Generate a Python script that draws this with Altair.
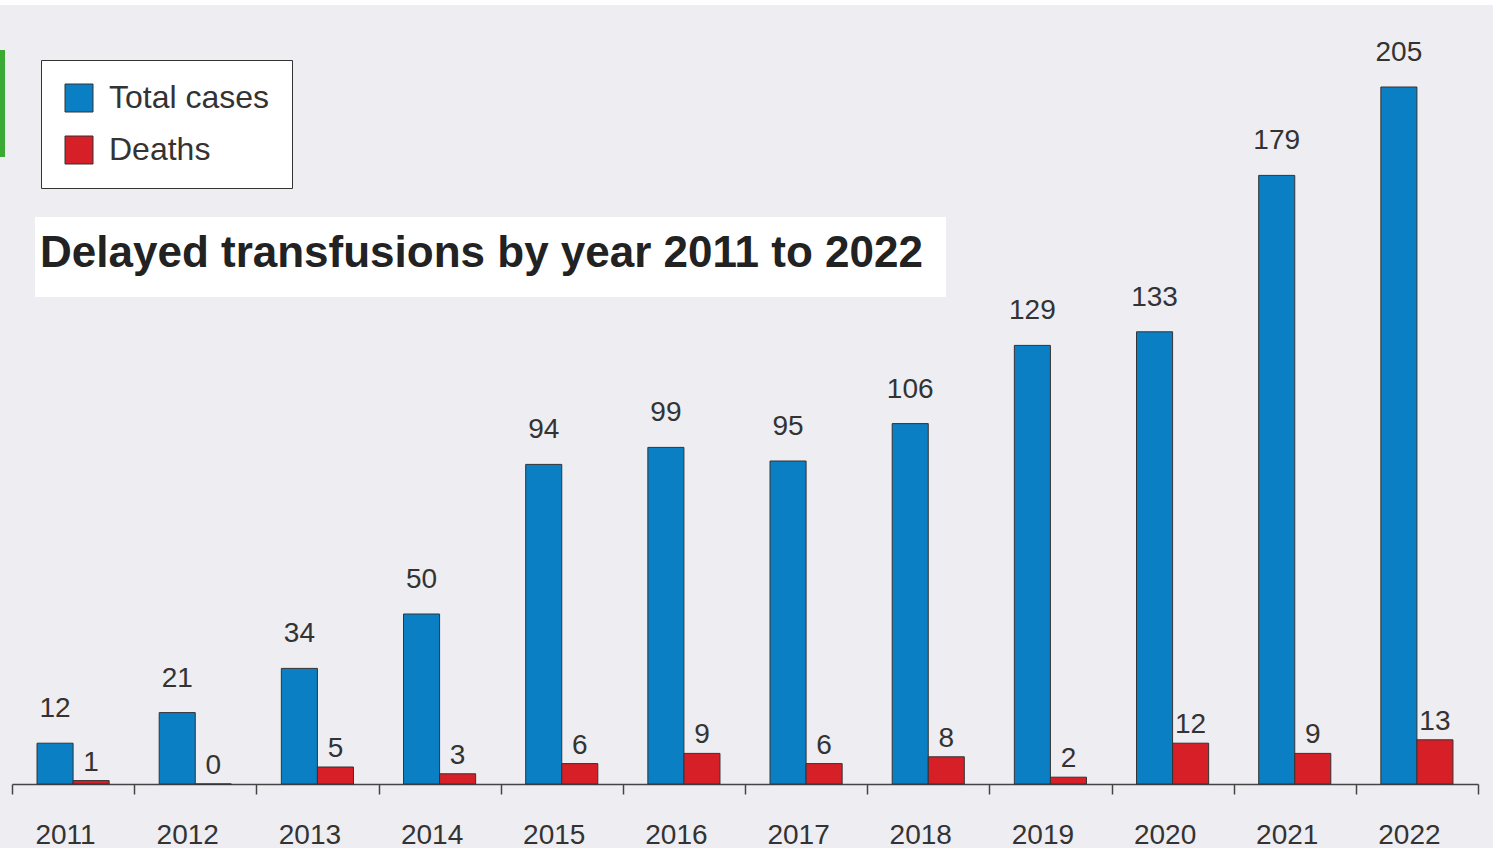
import altair as alt
import pandas as pd

years = ["2011", "2012", "2013", "2014", "2015", "2016", "2017", "2018", "2019", "2020", "2021", "2022"]
total_cases = [12, 21, 34, 50, 94, 99, 95, 106, 129, 133, 179, 205]
deaths = [1, 0, 5, 3, 6, 9, 6, 8, 2, 12, 9, 13]
series = ["Total cases", "Deaths"]
colors = ["#0a7fc4", "#d71f27"]
title_text = "Delayed transfusions by year 2011 to 2022"

rows = []
for y, t, d in zip(years, total_cases, deaths):
    rows.append({"year": y, "series": "Total cases", "value": t})
    rows.append({"year": y, "series": "Deaths", "value": d})
df = pd.DataFrame(rows)

FONT = "Liberation Sans"

x = alt.X("year:N", sort=years, title=None,
          scale=alt.Scale(paddingInner=0, paddingOuter=0),
          axis=alt.Axis(labelAngle=0, tickBand="extent", tickSize=10, tickWidth=1.5,
                        tickColor="#444", domainColor="#444", domainWidth=1.5,
                        labelFontSize=28, labelColor="#333", labelFont=FONT,
                        labelPadding=27, labelOffset=-8, grid=False))
xo = alt.XOffset("series:N", sort=series, scale=alt.Scale(paddingInner=0, paddingOuter=0.694))
y = alt.Y("value:Q", axis=None, scale=alt.Scale(domain=[0, 225], nice=False, zero=True))

bars = alt.Chart(df).mark_bar(stroke="#333", strokeWidth=1).encode(
    x=x, xOffset=xo, y=y,
    color=alt.Color("series:N", sort=series,
                    scale=alt.Scale(domain=series, range=colors),
                    legend=alt.Legend(title=None, orient="none", legendX=29, legendY=41,
                                      fillColor="white", strokeColor="#333",
                                      padding=22, symbolType="square", symbolSize=784,
                                      symbolStrokeColor="#333", symbolStrokeWidth=1,
                                      labelFontSize=32, labelFont=FONT, labelColor="#333",
                                      labelOffset=14, rowPadding=20, labelLimit=400,
                                      symbolOpacity=1)),
)

lab_total = alt.Chart(df).transform_filter(alt.datum.series == "Total cases").mark_text(
    fontSize=28, font=FONT, color="#333", baseline="alphabetic", dy=-26
).encode(x=x, xOffset=xo, y=y, text="value:Q")

lab_deaths = alt.Chart(df).transform_filter(alt.datum.series == "Deaths").mark_text(
    fontSize=28, font=FONT, color="#333", baseline="alphabetic", dy=-10
).encode(x=x, xOffset=xo, y=y, text="value:Q")

title_df = pd.DataFrame({"t": [title_text]})
title_box = alt.Chart(title_df).mark_rect(color="white").encode(
    x=alt.value(23), x2=alt.value(934), y=alt.value(198), y2=alt.value(278))
title_mark = alt.Chart(title_df).mark_text(
    fontSize=44, font=FONT, fontWeight="bold", color="#222", align="left", baseline="alphabetic"
).encode(x=alt.value(28), y=alt.value(248), text="t:N")

green = alt.Chart(title_df).mark_rect(color="#3aaa35").encode(
    x=alt.value(-12), x2=alt.value(-7), y=alt.value(31), y2=alt.value(138))
top_strip = alt.Chart(title_df).mark_rect(color="white").encode(
    x=alt.value(-12), x2=alt.value(1481), y=alt.value(-19), y2=alt.value(-14))

chart = alt.layer(top_strip, bars, lab_total, lab_deaths, title_box, title_mark, green).properties(
    width=1466, height=765,
    autosize=alt.AutoSizeParams(type="none"),
    padding={"left": 12, "top": 19, "right": 15, "bottom": 64},
    background="#eeedf2",
).configure_view(strokeWidth=0)

chart.save("out.html", embed_options={"renderer": "svg", "actions": False})
